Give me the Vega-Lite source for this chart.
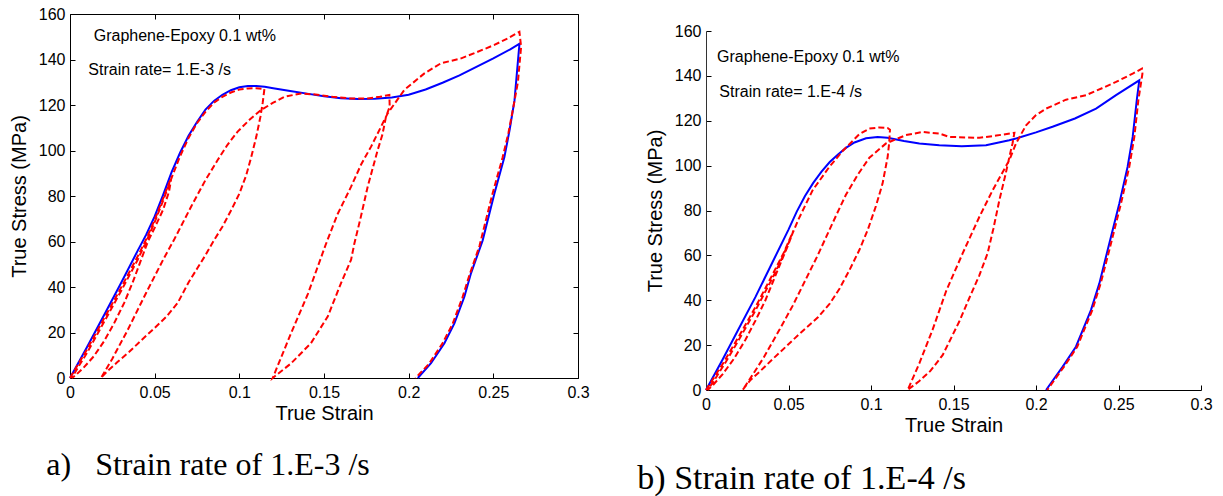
{
  "$schema": "https://vega.github.io/schema/vega-lite/v6.json",
  "padding": {"left": 9, "top": 6, "right": 2, "bottom": 0},
  "background": "white",
  "config": {
    "font": "Liberation Sans",
    "view": {"stroke": null},
    "axis": {"grid": false, "domainColor": "#000", "tickColor": "#000", "labelColor": "#000", "titleColor": "#000",
      "labelFont": "Liberation Sans", "titleFont": "Liberation Sans", "labelFontSize": 16, "titleFontSize": 20,
      "titleFontWeight": "normal", "tickSize": -5, "labelFlush": false, "labelOverlap": false, "domainWidth": 1, "tickWidth": 1},
    "axisX": {"labelPadding": 11, "titlePadding": 3},
    "axisY": {"labelPadding": 10, "titlePadding": 9},
    "title": {"font": "Liberation Serif", "fontWeight": "normal", "color": "#000"}
  },
  "datasets": {
    "a": [
      {"s":"b","x":0,"y":0},{"s":"b","x":0.01,"y":13.5},{"s":"b","x":0.02,"y":27.5},{"s":"b","x":0.03,"y":41.5},{"s":"b","x":0.04,"y":56},{"s":"b","x":0.045,"y":63},{"s":"b","x":0.05,"y":71},{"s":"b","x":0.055,"y":80.5},{"s":"b","x":0.06,"y":90.5},{"s":"b","x":0.065,"y":99},{"s":"b","x":0.07,"y":106.5},{"s":"b","x":0.075,"y":112.5},{"s":"b","x":0.08,"y":118},{"s":"b","x":0.085,"y":121.8},{"s":"b","x":0.09,"y":124.5},{"s":"b","x":0.095,"y":126.5},{"s":"b","x":0.1,"y":127.8},{"s":"b","x":0.105,"y":128.4},{"s":"b","x":0.11,"y":128.4},{"s":"b","x":0.115,"y":128},{"s":"b","x":0.12,"y":127.4},{"s":"b","x":0.13,"y":126.2},{"s":"b","x":0.14,"y":125},{"s":"b","x":0.15,"y":123.8},{"s":"b","x":0.16,"y":123},{"s":"b","x":0.17,"y":122.6},{"s":"b","x":0.18,"y":122.7},{"s":"b","x":0.19,"y":123.3},{"s":"b","x":0.2,"y":124.5},{"s":"b","x":0.21,"y":126.8},{"s":"b","x":0.22,"y":129.8},{"s":"b","x":0.23,"y":133},{"s":"b","x":0.24,"y":136.8},{"s":"b","x":0.25,"y":140.5},{"s":"b","x":0.26,"y":144.5},{"s":"b","x":0.2655,"y":147},{"s":"b","x":0.2652,"y":145},{"s":"b","x":0.2625,"y":122},{"s":"b","x":0.2596,"y":109},{"s":"b","x":0.2565,"y":97},{"s":"b","x":0.2506,"y":81},{"s":"b","x":0.2437,"y":60.5},{"s":"b","x":0.2368,"y":46},{"s":"b","x":0.2329,"y":35.7},{"s":"b","x":0.227,"y":24},{"s":"b","x":0.2211,"y":15.3},{"s":"b","x":0.2132,"y":6.5},{"s":"b","x":0.2054,"y":0},
      {"s":"r","x":0,"y":0},{"s":"r","x":0.01,"y":12.5},{"s":"r","x":0.02,"y":26},{"s":"r","x":0.03,"y":39.5},{"s":"r","x":0.04,"y":53.5},{"s":"r","x":0.045,"y":61},{"s":"r","x":0.05,"y":69.5},{"s":"r","x":0.055,"y":79},{"s":"r","x":0.06,"y":88.5},
      {"s":"r","x":0.0585,"y":82},{"s":"r","x":0.055,"y":74},{"s":"r","x":0.05,"y":66},{"s":"r","x":0.046,"y":60},{"s":"r","x":0.042,"y":52},{"s":"r","x":0.037,"y":42},{"s":"r","x":0.032,"y":33},{"s":"r","x":0.026,"y":24},{"s":"r","x":0.02,"y":16},{"s":"r","x":0.014,"y":9.5},{"s":"r","x":0.008,"y":4.5},{"s":"r","x":0.003,"y":1},{"s":"r","x":0.001,"y":0},
      {"s":"r","x":0.005,"y":5},{"s":"r","x":0.01,"y":11},{"s":"r","x":0.02,"y":24.5},{"s":"r","x":0.03,"y":38},{"s":"r","x":0.04,"y":52},{"s":"r","x":0.045,"y":60},{"s":"r","x":0.05,"y":68.5},{"s":"r","x":0.055,"y":78},{"s":"r","x":0.06,"y":88},{"s":"r","x":0.065,"y":97.5},{"s":"r","x":0.07,"y":105.5},{"s":"r","x":0.075,"y":112},{"s":"r","x":0.08,"y":117},{"s":"r","x":0.085,"y":121},{"s":"r","x":0.09,"y":123.6},{"s":"r","x":0.095,"y":125.5},{"s":"r","x":0.1,"y":126.8},{"s":"r","x":0.105,"y":127.3},{"s":"r","x":0.11,"y":127.4},{"s":"r","x":0.1148,"y":127},
      {"s":"r","x":0.1138,"y":121},{"s":"r","x":0.1125,"y":115},{"s":"r","x":0.11,"y":106},{"s":"r","x":0.107,"y":97},{"s":"r","x":0.104,"y":89},{"s":"r","x":0.1,"y":81},{"s":"r","x":0.095,"y":73.5},{"s":"r","x":0.09,"y":66.5},{"s":"r","x":0.085,"y":60.5},{"s":"r","x":0.08,"y":54},{"s":"r","x":0.075,"y":48},{"s":"r","x":0.07,"y":42},{"s":"r","x":0.0636,"y":33},{"s":"r","x":0.057,"y":27},{"s":"r","x":0.05,"y":22},{"s":"r","x":0.042,"y":16.5},{"s":"r","x":0.035,"y":11.5},{"s":"r","x":0.028,"y":7},{"s":"r","x":0.022,"y":3},{"s":"r","x":0.0183,"y":0},
      {"s":"r","x":0.025,"y":8.5},{"s":"r","x":0.034,"y":21},{"s":"r","x":0.045,"y":37.5},{"s":"r","x":0.055,"y":52},{"s":"r","x":0.0616,"y":61},{"s":"r","x":0.0715,"y":75.3},{"s":"r","x":0.08,"y":87},{"s":"r","x":0.0872,"y":95.8},{"s":"r","x":0.093,"y":102.5},{"s":"r","x":0.099,"y":108.3},{"s":"r","x":0.106,"y":113.5},{"s":"r","x":0.1128,"y":117.8},{"s":"r","x":0.12,"y":121},{"s":"r","x":0.1266,"y":123.6},{"s":"r","x":0.1364,"y":125.1},{"s":"r","x":0.145,"y":124.6},{"s":"r","x":0.155,"y":123.6},{"s":"r","x":0.165,"y":122.9},{"s":"r","x":0.175,"y":122.8},{"s":"r","x":0.183,"y":123.6},{"s":"r","x":0.1886,"y":124.4},
      {"s":"r","x":0.1888,"y":119.3},{"s":"r","x":0.1866,"y":114.8},{"s":"r","x":0.1845,"y":107},{"s":"r","x":0.1817,"y":100.2},{"s":"r","x":0.1758,"y":84.1},{"s":"r","x":0.1715,"y":70},{"s":"r","x":0.1679,"y":59},{"s":"r","x":0.166,"y":52},{"s":"r","x":0.16,"y":41.6},{"s":"r","x":0.1522,"y":27},{"s":"r","x":0.1423,"y":15.3},{"s":"r","x":0.1305,"y":6.4},{"s":"r","x":0.1197,"y":0},
      {"s":"r","x":0.1305,"y":19.6},{"s":"r","x":0.1405,"y":37},{"s":"r","x":0.1512,"y":59},{"s":"r","x":0.158,"y":72},{"s":"r","x":0.166,"y":84.1},{"s":"r","x":0.172,"y":94},{"s":"r","x":0.1778,"y":101.7},{"s":"r","x":0.1876,"y":116.3},{"s":"r","x":0.1974,"y":126.6},{"s":"r","x":0.2093,"y":133.9},{"s":"r","x":0.219,"y":138.3},{"s":"r","x":0.231,"y":140.5},{"s":"r","x":0.2408,"y":143.4},{"s":"r","x":0.2506,"y":146.4},{"s":"r","x":0.2585,"y":149.3},{"s":"r","x":0.2654,"y":152.2},
      {"s":"r","x":0.2664,"y":145.6},{"s":"r","x":0.2645,"y":130},{"s":"r","x":0.2618,"y":119},{"s":"r","x":0.259,"y":108},{"s":"r","x":0.2555,"y":97},{"s":"r","x":0.2495,"y":81},{"s":"r","x":0.2418,"y":58},{"s":"r","x":0.2358,"y":45},{"s":"r","x":0.2318,"y":35.5},{"s":"r","x":0.2258,"y":23.5},{"s":"r","x":0.2198,"y":15},{"s":"r","x":0.2118,"y":6},{"s":"r","x":0.204,"y":0}
    ],
    "b": [
      {"s":"b","x":0,"y":0},{"s":"b","x":0.01,"y":13.5},{"s":"b","x":0.02,"y":27.5},{"s":"b","x":0.03,"y":41.5},{"s":"b","x":0.04,"y":56.5},{"s":"b","x":0.05,"y":71.5},{"s":"b","x":0.055,"y":79.5},{"s":"b","x":0.06,"y":86.5},{"s":"b","x":0.065,"y":92.3},{"s":"b","x":0.07,"y":97.3},{"s":"b","x":0.075,"y":101.6},{"s":"b","x":0.08,"y":105},{"s":"b","x":0.085,"y":108},{"s":"b","x":0.09,"y":110.3},{"s":"b","x":0.097,"y":112.2},{"s":"b","x":0.104,"y":112.8},{"s":"b","x":0.11,"y":112.4},{"s":"b","x":0.12,"y":111},{"s":"b","x":0.1293,"y":109.9},{"s":"b","x":0.1414,"y":109.1},{"s":"b","x":0.155,"y":108.6},{"s":"b","x":0.1697,"y":109.1},{"s":"b","x":0.1838,"y":111.3},{"s":"b","x":0.1899,"y":112.5},{"s":"b","x":0.2,"y":114.8},{"s":"b","x":0.21,"y":117.3},{"s":"b","x":0.2236,"y":121},{"s":"b","x":0.2364,"y":125.4},{"s":"b","x":0.2485,"y":131.4},{"s":"b","x":0.2626,"y":138},{"s":"b","x":0.2612,"y":130},{"s":"b","x":0.2586,"y":112.8},{"s":"b","x":0.2555,"y":99.4},{"s":"b","x":0.2505,"y":83.1},{"s":"b","x":0.2434,"y":62.3},{"s":"b","x":0.2384,"y":47.5},{"s":"b","x":0.2333,"y":35.6},{"s":"b","x":0.2242,"y":19.3},{"s":"b","x":0.2162,"y":10.4},{"s":"b","x":0.2061,"y":0},
      {"s":"r","x":0,"y":0},{"s":"r","x":0.01,"y":11.5},{"s":"r","x":0.02,"y":24},{"s":"r","x":0.03,"y":37},{"s":"r","x":0.04,"y":51},{"s":"r","x":0.047,"y":61},{"s":"r","x":0.053,"y":71},
      {"s":"r","x":0.05,"y":65},{"s":"r","x":0.046,"y":58},{"s":"r","x":0.041,"y":49},{"s":"r","x":0.036,"y":40},{"s":"r","x":0.03,"y":31},{"s":"r","x":0.024,"y":22.5},{"s":"r","x":0.017,"y":14},{"s":"r","x":0.01,"y":7},{"s":"r","x":0.004,"y":2},{"s":"r","x":0.001,"y":0},
      {"s":"r","x":0.006,"y":5.5},{"s":"r","x":0.012,"y":12.5},{"s":"r","x":0.02,"y":22.5},{"s":"r","x":0.03,"y":35.5},{"s":"r","x":0.04,"y":49.5},{"s":"r","x":0.045,"y":57},{"s":"r","x":0.05,"y":65.5},{"s":"r","x":0.056,"y":76},{"s":"r","x":0.0646,"y":89},{"s":"r","x":0.0747,"y":99.4},{"s":"r","x":0.0828,"y":106.5},{"s":"r","x":0.0929,"y":114},{"s":"r","x":0.099,"y":116.5},{"s":"r","x":0.105,"y":117},{"s":"r","x":0.11,"y":116.8},{"s":"r","x":0.1115,"y":116},
      {"s":"r","x":0.111,"y":110},{"s":"r","x":0.1101,"y":103.9},{"s":"r","x":0.107,"y":92},{"s":"r","x":0.103,"y":82},{"s":"r","x":0.098,"y":71.3},{"s":"r","x":0.093,"y":62.5},{"s":"r","x":0.087,"y":53.5},{"s":"r","x":0.0808,"y":45},{"s":"r","x":0.075,"y":38.5},{"s":"r","x":0.068,"y":32.5},{"s":"r","x":0.0566,"y":25},{"s":"r","x":0.048,"y":19},{"s":"r","x":0.04,"y":13.5},{"s":"r","x":0.033,"y":8.5},{"s":"r","x":0.027,"y":4.5},{"s":"r","x":0.0222,"y":0},
      {"s":"r","x":0.028,"y":6.5},{"s":"r","x":0.035,"y":14.5},{"s":"r","x":0.0444,"y":26.7},{"s":"r","x":0.0525,"y":37.5},{"s":"r","x":0.0606,"y":49.5},{"s":"r","x":0.0677,"y":60},{"s":"r","x":0.0727,"y":68},{"s":"r","x":0.079,"y":78},{"s":"r","x":0.0848,"y":87},{"s":"r","x":0.092,"y":96},{"s":"r","x":0.099,"y":103.5},{"s":"r","x":0.1091,"y":109.9},{"s":"r","x":0.1212,"y":113.6},{"s":"r","x":0.1313,"y":115},{"s":"r","x":0.1414,"y":114.3},{"s":"r","x":0.1475,"y":112.8},{"s":"r","x":0.1657,"y":112.4},{"s":"r","x":0.176,"y":113.4},{"s":"r","x":0.1869,"y":114.6},
      {"s":"r","x":0.1858,"y":110},{"s":"r","x":0.1848,"y":106.9},{"s":"r","x":0.1815,"y":96},{"s":"r","x":0.1778,"y":84.6},{"s":"r","x":0.1742,"y":72},{"s":"r","x":0.1707,"y":61},{"s":"r","x":0.1656,"y":51},{"s":"r","x":0.1596,"y":41},{"s":"r","x":0.1535,"y":30.5},{"s":"r","x":0.1434,"y":15.5},{"s":"r","x":0.136,"y":8.5},{"s":"r","x":0.1293,"y":4},{"s":"r","x":0.1222,"y":0},
      {"s":"r","x":0.1293,"y":11.9},{"s":"r","x":0.1374,"y":27},{"s":"r","x":0.1455,"y":44},{"s":"r","x":0.1556,"y":61},{"s":"r","x":0.1657,"y":77.2},{"s":"r","x":0.1737,"y":89},{"s":"r","x":0.1838,"y":102.4},{"s":"r","x":0.1879,"y":109.9},{"s":"r","x":0.194,"y":118},{"s":"r","x":0.2,"y":122.5},{"s":"r","x":0.2061,"y":125.4},{"s":"r","x":0.2182,"y":129.4},{"s":"r","x":0.2303,"y":131.4},{"s":"r","x":0.24,"y":134.5},{"s":"r","x":0.2485,"y":137.3},{"s":"r","x":0.2586,"y":141},{"s":"r","x":0.2642,"y":143.2},
      {"s":"r","x":0.2645,"y":141},{"s":"r","x":0.262,"y":129},{"s":"r","x":0.2596,"y":112.8},{"s":"r","x":0.2565,"y":99.4},{"s":"r","x":0.2515,"y":83.1},{"s":"r","x":0.2444,"y":62.3},{"s":"r","x":0.2392,"y":47.5},{"s":"r","x":0.2341,"y":35.6},{"s":"r","x":0.225,"y":19.3},{"s":"r","x":0.217,"y":10.4},{"s":"r","x":0.2068,"y":0}
    ]
  },
  "spacing": 47,
  "hconcat": [
    {
      "title": {"text": "a)\u00a0\u00a0\u00a0Strain rate of 1.E-3 /s", "orient": "bottom", "anchor": "start", "fontSize": 32, "offset": 27, "dx": 37},
      "vconcat": [
        {
          "width": 508, "height": 364,
          "data": {"name": "a"},
          "layer": [
            {
              "transform": [{"filter": "datum.s === 'b'"}],
              "mark": {"type": "line", "color": "#0000ff", "strokeWidth": 2},
              "encoding": {
                "x": {"field": "x", "type": "quantitative", "scale": {"domain": [0, 0.3], "nice": false, "zero": false},
                  "axis": {"orient": "top", "labels": false, "title": null, "values": [0, 0.05, 0.1, 0.15, 0.2, 0.25, 0.3]}},
                "y": {"field": "y", "type": "quantitative", "scale": {"domain": [0, 160], "nice": false},
                  "axis": {"orient": "right", "labels": false, "title": null, "values": [0, 20, 40, 60, 80, 100, 120, 140, 160]}},
                "order": {"value": null}
              }
            },
            {
              "transform": [{"filter": "datum.s === 'r'"}],
              "mark": {"type": "line", "color": "#ff0000", "strokeWidth": 2, "strokeDash": [6, 3]},
              "encoding": {
                "x": {"field": "x", "type": "quantitative", "scale": {"domain": [0, 0.3], "nice": false, "zero": false},
                  "axis": {"orient": "bottom", "title": "True Strain", "format": "~g", "values": [0, 0.05, 0.1, 0.15, 0.2, 0.25, 0.3]}},
                "y": {"field": "y", "type": "quantitative", "scale": {"domain": [0, 160], "nice": false},
                  "axis": {"orient": "left", "title": "True Stress (MPa)", "values": [0, 20, 40, 60, 80, 100, 120, 140, 160]}},
                "order": {"value": null}
              }
            },
            {
              "data": {"values": [{}]},
              "mark": {"type": "text", "align": "left", "baseline": "middle", "fontSize": 16, "font": "Liberation Sans", "color": "#000"},
              "encoding": {
                "x": {"datum": 0.014, "type": "quantitative", "axis": null},
                "y": {"datum": 150.5, "type": "quantitative", "axis": null},
                "text": {"value": "Graphene-Epoxy 0.1 wt%"}
              }
            },
            {
              "data": {"values": [{}]},
              "mark": {"type": "text", "align": "left", "baseline": "middle", "fontSize": 16, "font": "Liberation Sans", "color": "#000"},
              "encoding": {
                "x": {"datum": 0.0108, "type": "quantitative", "axis": null},
                "y": {"datum": 135.4, "type": "quantitative", "axis": null},
                "text": {"value": "Strain rate= 1.E-3 /s"}
              }
            }
          ],
          "resolve": {"axis": {"x": "independent", "y": "independent"}}
        }
      ]
    },
    {
      "title": {"text": "b) Strain rate of 1.E-4 /s", "orient": "bottom", "anchor": "start", "fontSize": 34, "offset": 27, "dx": -8},
      "spacing": 8,
      "vconcat": [
        {
          "width": 495, "height": 1,
          "data": {"values": []},
          "mark": "rule",
          "encoding": {}
        },
        {
          "width": 495, "height": 359,
          "data": {"name": "b"},
          "layer": [
            {
              "transform": [{"filter": "datum.s === 'b'"}],
              "mark": {"type": "line", "color": "#0000ff", "strokeWidth": 2},
              "encoding": {
                "x": {"field": "x", "type": "quantitative", "scale": {"domain": [0, 0.3], "nice": false, "zero": false},
                  "axis": {"orient": "bottom", "title": "True Strain", "format": "~g", "values": [0, 0.05, 0.1, 0.15, 0.2, 0.25, 0.3]}},
                "y": {"field": "y", "type": "quantitative", "scale": {"domain": [0, 160], "nice": false},
                  "axis": {"orient": "left", "title": "True Stress (MPa)", "values": [0, 20, 40, 60, 80, 100, 120, 140, 160], "domainColor": "#333"}},
                "order": {"value": null}
              }
            },
            {
              "transform": [{"filter": "datum.s === 'r'"}],
              "mark": {"type": "line", "color": "#ff0000", "strokeWidth": 2, "strokeDash": [6, 3]},
              "encoding": {
                "x": {"field": "x", "type": "quantitative", "scale": {"domain": [0, 0.3], "nice": false, "zero": false}, "axis": null},
                "y": {"field": "y", "type": "quantitative", "scale": {"domain": [0, 160], "nice": false}, "axis": null},
                "order": {"value": null}
              }
            },
            {
              "data": {"values": [{}]},
              "mark": {"type": "text", "align": "left", "baseline": "middle", "fontSize": 16, "font": "Liberation Sans", "color": "#000"},
              "encoding": {
                "x": {"datum": 0.0067, "type": "quantitative", "axis": null},
                "y": {"datum": 148.4, "type": "quantitative", "axis": null},
                "text": {"value": "Graphene-Epoxy 0.1 wt%"}
              }
            },
            {
              "data": {"values": [{}]},
              "mark": {"type": "text", "align": "left", "baseline": "middle", "fontSize": 16, "font": "Liberation Sans", "color": "#000"},
              "encoding": {
                "x": {"datum": 0.0081, "type": "quantitative", "axis": null},
                "y": {"datum": 132.8, "type": "quantitative", "axis": null},
                "text": {"value": "Strain rate= 1.E-4 /s"}
              }
            }
          ],
          "resolve": {"axis": {"x": "independent", "y": "independent"}}
        }
      ]
    }
  ]
}
